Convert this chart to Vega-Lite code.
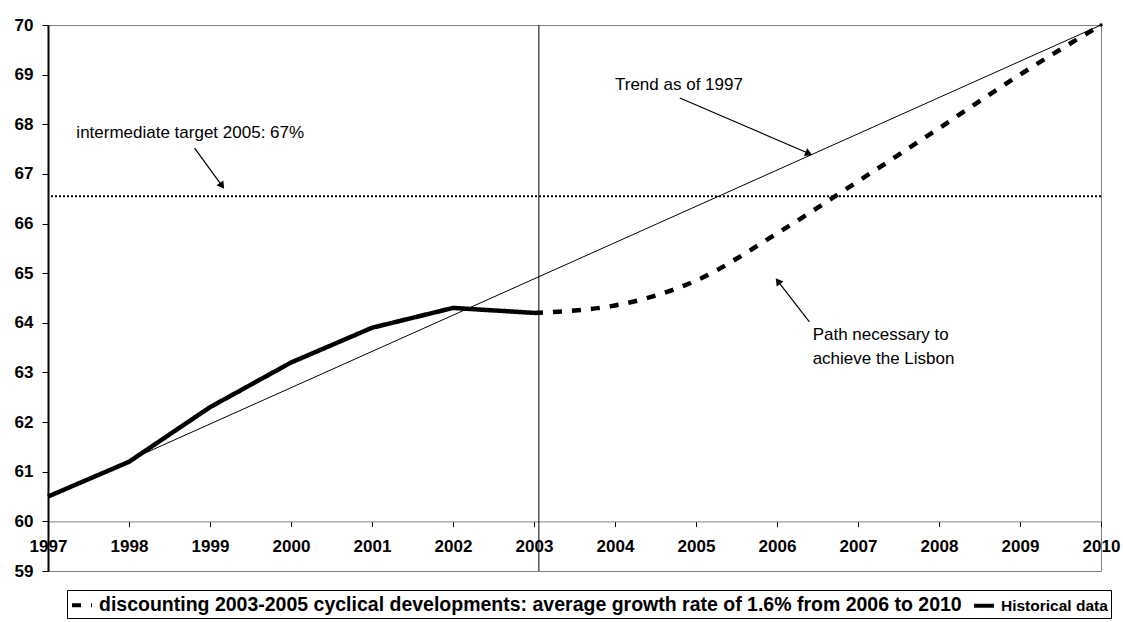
{
  "$schema": "https://vega.github.io/schema/vega-lite/v6.json",
  "width": 1053,
  "height": 546,
  "autosize": "none",
  "padding": {"left": 48, "top": 25, "right": 22, "bottom": 51},
  "background": "white",
  "config": {
    "font": "Liberation Sans",
    "view": {"stroke": "#808080", "strokeWidth": 1},
    "text": {"font": "Liberation Sans"}
  },
  "datasets": {
    "historical": [
      {"year": 1997, "value": 60.5, "series": "Historical data"},
      {"year": 1998, "value": 61.2, "series": "Historical data"},
      {"year": 1999, "value": 62.3, "series": "Historical data"},
      {"year": 2000, "value": 63.2, "series": "Historical data"},
      {"year": 2001, "value": 63.9, "series": "Historical data"},
      {"year": 2002, "value": 64.3, "series": "Historical data"},
      {"year": 2003, "value": 64.2, "series": "Historical data"}
    ],
    "path": [
      {"year": 2003, "value": 64.2, "series": "discounting 2003-2005 cyclical developments: average growth rate of 1.6% from 2006 to 2010"},
      {"year": 2004, "value": 64.35, "series": "discounting 2003-2005 cyclical developments: average growth rate of 1.6% from 2006 to 2010"},
      {"year": 2005, "value": 64.85, "series": "discounting 2003-2005 cyclical developments: average growth rate of 1.6% from 2006 to 2010"},
      {"year": 2006, "value": 65.8, "series": "discounting 2003-2005 cyclical developments: average growth rate of 1.6% from 2006 to 2010"},
      {"year": 2007, "value": 66.85, "series": "discounting 2003-2005 cyclical developments: average growth rate of 1.6% from 2006 to 2010"},
      {"year": 2008, "value": 67.92, "series": "discounting 2003-2005 cyclical developments: average growth rate of 1.6% from 2006 to 2010"},
      {"year": 2009, "value": 69.0, "series": "discounting 2003-2005 cyclical developments: average growth rate of 1.6% from 2006 to 2010"},
      {"year": 2010, "value": 70.0, "series": "discounting 2003-2005 cyclical developments: average growth rate of 1.6% from 2006 to 2010"}
    ],
    "trend": [
      {"year": 1997, "value": 60.5},
      {"year": 2010, "value": 70.0}
    ],
    "notes": [
      {"text": "intermediate target 2005: 67%", "x": 1997.35, "y": 67.82},
      {"text": "Trend as of 1997", "x": 2004.0, "y": 68.79},
      {"text": "Path necessary to", "x": 2006.44, "y": 63.76},
      {"text": "achieve the Lisbon", "x": 2006.44, "y": 63.27}
    ],
    "arrows": [
      {"x": 1998.81, "y": 67.52, "x2": 1999.14, "y2": 66.78, "angle": 145},
      {"x": 2004.80, "y": 68.53, "x2": 2006.38, "y2": 67.42, "angle": 113},
      {"x": 2006.40, "y": 64.02, "x2": 2006.02, "y2": 64.82, "angle": 323}
    ]
  },
  "layer": [
    {
      "data": {"values": [{"target": 66.55}]},
      "mark": {"type": "rule", "color": "black", "strokeWidth": 2, "strokeDash": [2, 2]},
      "encoding": {"y": {"field": "target", "type": "quantitative"}}
    },
    {
      "data": {"values": [{"cut": 2003.06}]},
      "mark": {"type": "rule", "color": "black", "strokeWidth": 1},
      "encoding": {"x": {"field": "cut", "type": "quantitative"}}
    },
    {
      "data": {"name": "trend"},
      "mark": {"type": "line", "color": "black", "strokeWidth": 1},
      "encoding": {
        "x": {"field": "year", "type": "quantitative"},
        "y": {"field": "value", "type": "quantitative"}
      }
    },
    {
      "data": {"name": "historical"},
      "mark": {"type": "line", "color": "black", "strokeWidth": 4.5, "interpolate": "linear", "strokeJoin": "round"},
      "encoding": {
        "x": {
          "field": "year", "type": "quantitative",
          "scale": {"domain": [1997, 2010], "nice": false, "zero": false},
          "axis": {
            "title": null, "orient": "bottom", "offset": -49.6,
            "values": [1997, 1998, 1999, 2000, 2001, 2002, 2003, 2004, 2005, 2006, 2007, 2008, 2009, 2010],
            "format": "d", "grid": false, "labelFlush": false, "labelOverlap": false,
            "labelFont": "Liberation Sans", "labelFontSize": 17, "labelFontWeight": "bold", "labelColor": "black",
            "labelPadding": 12, "tickSize": 5, "tickColor": "#000", "domainColor": "#808080"
          }
        },
        "y": {
          "field": "value", "type": "quantitative",
          "scale": {"domain": [59, 70], "nice": false, "zero": false},
          "axis": {
            "title": null,
            "values": [59, 60, 61, 62, 63, 64, 65, 66, 67, 68, 69, 70],
            "grid": false, "labelFont": "Liberation Sans", "labelFontSize": 17, "labelFontWeight": "bold", "labelColor": "black",
            "labelPadding": 9, "tickSize": 6, "tickColor": "#000", "domainColor": "#000", "domainWidth": 2
          }
        },
        "strokeDash": {
          "field": "series", "type": "nominal",
          "scale": {
            "domain": ["discounting 2003-2005 cyclical developments: average growth rate of 1.6% from 2006 to 2010", "Historical data"],
            "range": [[9, 10], [1, 0]]
          },
          "legend": {
            "title": null, "orient": "none", "legendX": 19, "legendY": 565,
            "direction": "horizontal", "columns": 2,
            "strokeColor": "#000", "fillColor": "white", "padding": 3,
            "symbolType": "stroke", "symbolStrokeWidth": 4, "symbolSize": 400, "symbolStrokeColor": "black",
            "labelFont": "Liberation Sans", "labelFontSize": 19.5, "labelFontWeight": "bold", "labelColor": "black",
            "labelLimit": 1000, "columnPadding": 4, "labelOffset": 5,
            "encode": {"labels": {"update": {"fontSize": {"signal": "datum.label === 'Historical data' ? 15.5 : 19.5"}}}}
          }
        }
      }
    },
    {
      "data": {"name": "path"},
      "mark": {"type": "line", "color": "black", "strokeWidth": 4.5, "interpolate": "monotone"},
      "encoding": {
        "x": {"field": "year", "type": "quantitative"},
        "y": {"field": "value", "type": "quantitative"},
        "strokeDash": {"field": "series", "type": "nominal"}
      }
    },
    {
      "data": {"values": [{"year": 2010, "value": 70}]},
      "mark": {"type": "point", "filled": true, "color": "black", "size": 12, "opacity": 1},
      "encoding": {
        "x": {"field": "year", "type": "quantitative"},
        "y": {"field": "value", "type": "quantitative"}
      }
    },
    {
      "data": {"name": "notes"},
      "mark": {"type": "text", "align": "left", "baseline": "middle", "fontSize": 17, "color": "black", "font": "Liberation Sans"},
      "encoding": {
        "x": {"field": "x", "type": "quantitative"},
        "y": {"field": "y", "type": "quantitative"},
        "text": {"field": "text"}
      }
    },
    {
      "data": {"name": "arrows"},
      "mark": {"type": "rule", "color": "black", "strokeWidth": 1.2},
      "encoding": {
        "x": {"field": "x", "type": "quantitative"},
        "y": {"field": "y", "type": "quantitative"},
        "x2": {"field": "x2"},
        "y2": {"field": "y2"}
      }
    },
    {
      "data": {"name": "arrows"},
      "mark": {"type": "point", "shape": "triangle", "filled": true, "color": "black", "size": 70, "opacity": 1},
      "encoding": {
        "x": {"field": "x2", "type": "quantitative"},
        "y": {"field": "y2", "type": "quantitative"},
        "angle": {"field": "angle", "type": "quantitative", "scale": null}
      }
    }
  ]
}
